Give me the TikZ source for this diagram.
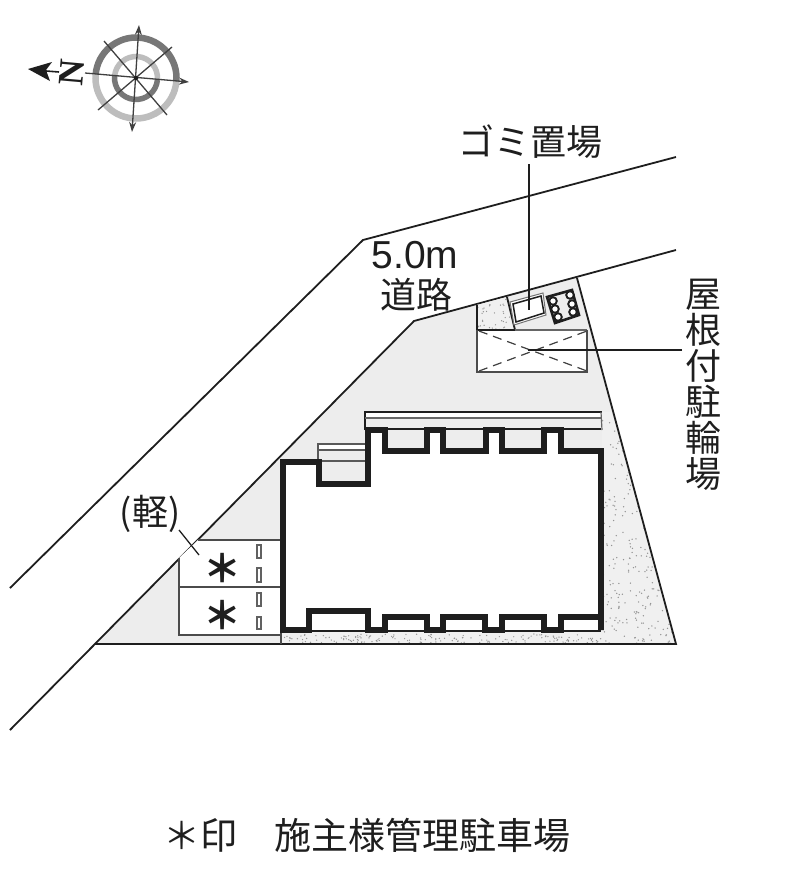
\documentclass[tikz,border=0pt]{standalone}
\usepackage{fontspec}
\setmainfont{Liberation Sans}
\newfontfamily\cjk{Noto Sans CJK JP}
\newfontfamily\nserif{Liberation Serif}
\usetikzlibrary{arrows.meta}
\definecolor{sitegray}{HTML}{EDEDED}
\definecolor{ink}{HTML}{1E1E1E}
\definecolor{ringdark}{HTML}{777777}
\definecolor{ringlight}{HTML}{BDBDBD}
\tikzset{
  thinline/.style={draw=ink,line width=1.8pt},
  leader/.style={draw=ink,line width=1.3pt},
  wall/.style={draw=ink,line width=5.4pt,line join=miter},
  label/.style={font=\fontsize{36}{36}\selectfont\cjk,text=ink,inner sep=0pt,align=center},
  smallbox/.style={draw=ink!70,fill=white,line width=1.3pt},
  compassline/.style={draw=ink!85,line width=1.3pt},
  compassarrow/.style={compassline,-{Stealth[length=10pt,width=7pt]}},
  dot/.style={fill=black!42,draw=none}
}
\begin{document}
\begin{tikzpicture}[x=1pt,y=-1pt]
\useasboundingbox[fill=white] (0,0) rectangle (800,881);

% site ground
\fill[sitegray] (95,644) -- (414,321) -- (577,278) -- (676,644) -- cycle;

% stippled strip
\begin{scope}
\clip (281,632) -- (601,632) -- (601,412) -- (612,412) -- (676,644) -- (281,644) -- cycle;
\fill[black!6] (281,400) rectangle (680,650);
\pgfmathsetseed{4217}
\foreach \i in {1,...,340}{
  \pgfmathsetmacro{\rx}{601+rnd*76}
  \pgfmathsetmacro{\ry}{412+rnd*232}
  \fill[dot] (\rx,\ry) circle (0.75pt);
}
\foreach \i in {1,...,170}{
  \pgfmathsetmacro{\rx}{281+rnd*320}
  \pgfmathsetmacro{\ry}{634+rnd*9}
  \fill[dot] (\rx,\ry) circle (0.7pt);
}
\end{scope}

% roads and site boundary
\draw[thinline,line join=miter] (10,588) -- (363,240) -- (676,157);
\draw[thinline,line join=miter] (10,730) -- (414,321) -- (676,250);
\draw[thinline] (577,278) -- (676,644) -- (95,644);

% parking
\fill[white] (198,540) -- (281,540) -- (281,635) -- (179,635) -- (179,558) -- cycle;
\draw[thinline,draw=ink!80] (198,540) -- (281,540);
\draw[thinline,draw=ink!80] (179,558) -- (179,635) -- (281,635);
\draw[thinline,draw=ink!80] (179,587) -- (281,587);
\draw[thinline,draw=ink!80] (281,632) -- (281,644);
\draw[smallbox] (257,545) rectangle (261,558);
\draw[smallbox] (257,568) rectangle (261,582);
\draw[smallbox] (257,593) rectangle (261,606);
\draw[smallbox] (257,617) rectangle (261,629);
\node[label,font=\fontsize{38}{38}\selectfont\cjk\bfseries] (a1) at (222,568) {＊};
\node[label,font=\fontsize{38}{38}\selectfont\cjk\bfseries] (a2) at (222,615) {＊};

% roof strip and entrance canopy
\fill[white] (365,412) rectangle (602,418);
\fill[sitegray] (365,418) rectangle (602,451);
\draw[ink,line width=1.8pt] (365,430) -- (365,412) -- (602,412);
\draw[black!60,line width=1.8pt] (365,418) -- (602,418);
\draw[black!60,line width=1.2pt] (601,412) -- (602,430);
\fill[white] (318,444) rectangle (368,450);
\fill[sitegray] (318,450) rectangle (368,484);
\draw[black!65,line width=1.3pt] (318,462) -- (318,444) -- (368,444);
\draw[black!65,line width=1.6pt] (318,450) -- (368,450);
\draw[black!65,line width=1.6pt] (318,461) -- (368,461);

% building
\fill[white] (283,462) -- (320,462) -- (320,484) -- (368,484) -- (368,451) -- (601,451) -- (601,630) -- (283,630) -- cycle;
\fill[white] (368,430) rectangle (385,451);
\fill[white] (427,430) rectangle (443,451);
\fill[white] (485,430) rectangle (502,451);
\fill[white] (544,430) rectangle (561,451);
\draw[ink,line width=1.5pt] (368,429) -- (601,429);
\draw[wall] (283,462) -- (319,462) -- (319,484) -- (368,484) -- (368,430) -- (385,430) -- (385,451)
  -- (427,451) -- (427,430) -- (443,430) -- (443,451) -- (486,451) -- (486,430) -- (502,430)
  -- (502,451) -- (544,451) -- (544,430) -- (561,430) -- (561,451) -- (601,451) -- (601,630)
  -- (601,617) -- (561,617) -- (561,630) -- (544,630) -- (544,617) -- (502,617) -- (502,630)
  -- (485,630) -- (485,617) -- (443,617) -- (443,630) -- (427,630) -- (427,617) -- (385,617)
  -- (385,630) -- (368,630) -- (368,611) -- (309,611) -- (309,630) -- (283,630) -- cycle;
\draw[ink,line width=1.8pt] (309,631) -- (601,631);

% bicycle parking, stipple box and garbage area
\fill[black!6] (477,305) -- (507,297) -- (515,330) -- (477,330) -- cycle;
\begin{scope}
\clip (477,305) -- (507,297) -- (515,330) -- (477,330) -- cycle;
\pgfmathsetseed{99}
\foreach \i in {1,...,40}{
  \pgfmathsetmacro{\rx}{477+rnd*38}
  \pgfmathsetmacro{\ry}{297+rnd*33}
  \fill[dot] (\rx,\ry) circle (0.7pt);
}
\end{scope}
\draw[ink,line width=1.8pt] (477,330) -- (477,305);
\draw[ink,line width=1.8pt] (507,297) -- (515,330);
\fill[white] (477,330) rectangle (587,372);
\draw[black!60,line width=2.2pt] (477,330) -- (587,330);
\draw[ink,line width=1.6pt] (477,330) -- (515,330);
\draw[black!70,line width=2pt] (477,330) -- (477,372) -- (587,372) -- (587,330);
\draw[ink!85,line width=1.2pt,dash pattern=on 9pt off 6pt] (479,331) -- (587,371);
\draw[ink!85,line width=1.2pt,dash pattern=on 9pt off 6pt] (479,371) -- (587,331);
\fill[white] (510,302) -- (543,293) -- (546,315) -- (514,325) -- cycle;
\draw[black!55,line width=1pt] (510,302) -- (543,293) -- (546,315) -- (514,325) -- cycle;
\draw[ink,line width=1.5pt] (513,304) -- (541,296) -- (544,313) -- (516,322) -- cycle;
\draw[ink,line width=2.6pt] (547,297) -- (572,290) -- (579,315) -- (555,323) -- cycle;
\foreach \cx/\cy in {553/301,570/295,555/309,572/304,558/317,573/312}
  \draw[ink,line width=1.9pt,fill=white] (\cx,\cy) circle (3.8pt);

% labels
\node[label] (gomi) at (530,142) {ゴミ置場};
\coordinate (gomiend) at (529,310);
\draw[leader] (gomi.south -| gomiend) ++(0,5) -- (gomiend);
\node[inner sep=0pt,font=\fontsize{39}{39}\selectfont,text=ink] (wid) at (415,255) {5.0m};
\node[label] (road) at (416,295) {道路};
\node[label] (roof) at (703,385) {屋\\根\\付\\駐\\輪\\場};
\coordinate (roofend) at (528,350);
\draw[leader] (682,350) -- (roofend);
\node[label] (kei) at (150,514) {(軽)};
\coordinate (keiend) at (199,555);
\draw[leader] (179,530) -- (keiend);
\node[label,font=\fontsize{37}{37}\selectfont\cjk] (note) at (367,835) {＊印　施主様管理駐車場};

% compass
\draw[ringdark,line width=6.5pt] (136,78) ++(175:40.5pt) arc[start angle=175,end angle=-5,radius=40.5pt];
\draw[ringlight,line width=6.5pt] (136,78) ++(175:40.5pt) arc[start angle=175,end angle=355,radius=40.5pt];
\draw[ringlight,line width=5.5pt] (136,78) ++(175:21.5pt) arc[start angle=175,end angle=-5,radius=21.5pt];
\draw[ringdark,line width=5.5pt] (136,78) ++(175:21.5pt) arc[start angle=175,end angle=355,radius=21.5pt];
\coordinate (cN) at (139,25);
\coordinate (cS) at (132,132);
\coordinate (cW) at (85,73);
\coordinate (cE) at (189,82);
\coordinate (dA1) at (104,41);
\coordinate (dA2) at (167,115);
\coordinate (dB1) at (172,47);
\coordinate (dB2) at (98,110);
\draw[compassline,{Stealth[length=10pt,width=7pt]}-{Stealth[length=10pt,width=7pt]}] (cN) -- (cS);
\draw[compassarrow] (cW) -- (cE);
\draw[compassline] (dA1) -- (dA2);
\draw[compassline] (dB1) -- (dB2);
\fill[ink] (136,78) circle (2.2pt);
\fill[ink] (28,69) -- (52,62) -- (46,70) -- (50,81) -- cycle;
\draw[ink,line width=1.6pt] (46,71) -- (59,72);
\node[inner sep=0pt,rotate=85,text=ink,font=\fontsize{36}{36}\selectfont\nserif\bfseries] (north) at (72,73) {N};
\end{tikzpicture}
\end{document}
